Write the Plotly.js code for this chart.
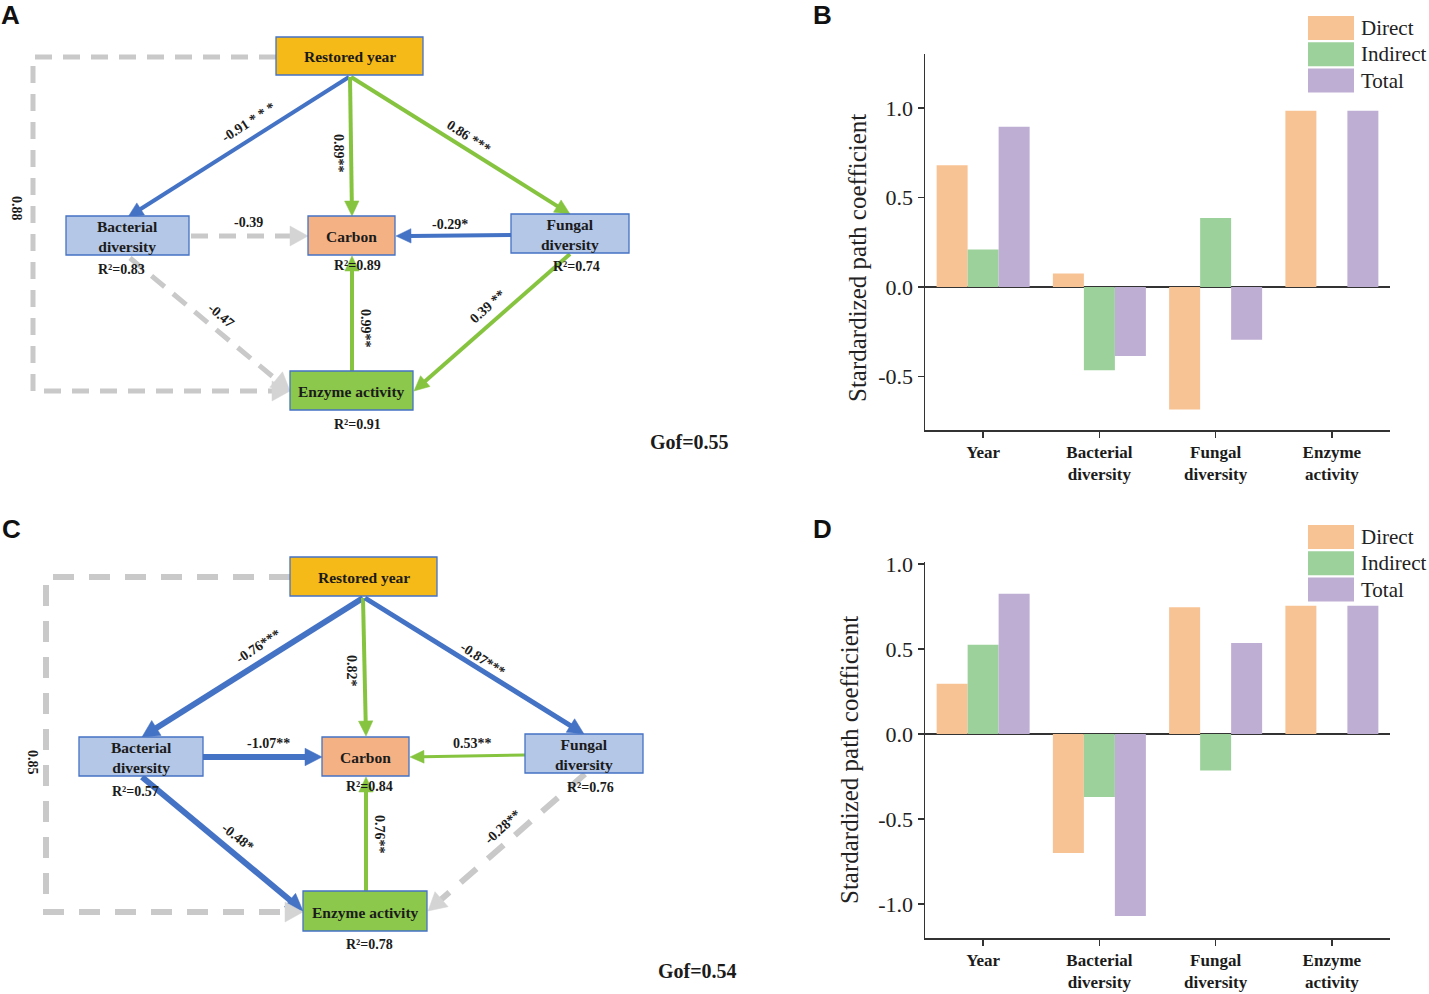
<!DOCTYPE html>
<html><head><meta charset="utf-8">
<script src="https://cdn.plot.ly/plotly-3.0.1.min.js"></script>
<style>html,body{margin:0;padding:0;background:#fff}</style>
</head><body><div id="fig" style="width:1429px;height:994px"></div>
<script>
// ---------------- DATA ----------------
const categories = ['Year', 'Bacterial<br>diversity', 'Fungal<br>diversity', 'Enzyme<br>activity'];
const seriesNames = ['Direct', 'Indirect', 'Total'];
const directB   = [0.68, 0.075, -0.685, 0.985];
const indirectB = [0.21, -0.465, 0.385, 0];
const totalB    = [0.895, -0.385, -0.295, 0.985];
const directD   = [0.295, -0.70, 0.745, 0.755];
const indirectD = [0.525, -0.37, -0.215, 0];
const totalD    = [0.825, -1.07, 0.535, 0.755];
const yTickVals = [-1.0, -0.5, 0.0, 0.5, 1.0];
const yTickText = ['-1.0', '-0.5', '0.0', '0.5', '1.0'];
const yTitle = 'Stardardized path coefficient';

// path model (structural equation) data
const nodeNames = ['Restored year', 'Bacterial<br>diversity', 'Carbon', 'Fungal<br>diversity', 'Enzyme activity'];
const r2A = [null, '0.83', '0.89', '0.74', '0.91'];
const r2C = [null, '0.57', '0.84', '0.76', '0.78'];
// edges: year->bact, year->carbon, year->fungal, bact->carbon, fungal->carbon, enzyme->carbon, fungal->enzyme, bact->enzyme, year->enzyme
const pathLabelsA = ['-0.91 * * *', '0.89**', '0.86 ***', '-0.39', '-0.29*', '0.99**', '0.39 **', '-0.47', '0.88'];
const pathTypesA  = ['neg', 'pos', 'pos', 'ns', 'neg', 'pos', 'pos', 'ns', 'ns'];
const pathLabelsC = ['-0.76***', '0.82*', '-0.87***', '-1.07**', '0.53**', '0.76**', '-0.28**', '-0.48*', '0.85'];
const pathTypesC  = ['neg', 'pos', 'neg', 'neg', 'pos', 'pos', 'ns', 'neg', 'ns'];
const gofA = '0.55';
const gofC = '0.54';

// ---------------- STYLE / LAYOUT CONFIG ----------------
const W = 1429, H = 994;
const X = px => px / W, Y = py => 1 - py / H;
const barColors = ['#F8C394', '#9CD19C', '#BFAED4'];
const serif = 'Liberation Serif, Times New Roman, serif';
const sans = 'Liberation Sans, Arial, sans-serif';
const txt = '#1b1b1b';
const nodeFill = ['#F5B918', '#B4C7E7', '#F4B183', '#B4C7E7', '#8CC84B'];
const edgeColor = {neg: '#4472C4', pos: '#86C440', ns: '#C9C9C9'};
const headColor = {neg: '#4472C4', pos: '#86C440', ns: '#D4D4D4'};

const diagA = {
  boxes: [[276,37,423,75],[66,216,189,255],[308,216,395,255],[511,214,629,253],[290,371,413,410]],
  r2pos: [null,[121,269],[357,265],[576,267],[357,424]],
  edges: [
    {pts:[[349,77],[128,217]], w:4},
    {pts:[[350,77],[352,216]], w:4},
    {pts:[[351,77],[570,214]], w:4},
    {pts:[[191,236],[308,236]], w:5, dash:'17px,11px'},
    {pts:[[511,235],[396,236]], w:4},
    {pts:[[352,371],[352,256]], w:4},
    {pts:[[570,254],[414,391]], w:4},
    {pts:[[130,258],[290,391]], w:5, dash:'17px,11px'},
    {pts:[[276,57],[33,57],[33,391],[290,391]], w:5, dash:'17px,11px'}
  ],
  labels: [[248,122,-33],[338,153,90],[468,137,33],[248,223,0],[450,224,0],[365,328,90],[488,307,-42],[221,315,40],[17,208,90]],
  gof: [689,442],
  ytitle: [857,258]
};
const diagC = {
  boxes: [[290,557,437,596],[79,737,203,776],[322,737,409,776],[525,734,643,773],[303,891,427,931]],
  r2pos: [null,[135,791],[370,786],[590,787],[370,944]],
  edges: [
    {pts:[[363,598],[142,737]], w:6},
    {pts:[[363,598],[366,736]], w:4},
    {pts:[[365,598],[584,734]], w:5},
    {pts:[[203,757],[322,757]], w:6},
    {pts:[[525,755],[410,757]], w:3},
    {pts:[[366,891],[366,777]], w:4},
    {pts:[[585,774],[428,911]], w:6, dash:'21px,15px'},
    {pts:[[142,777],[303,911]], w:6},
    {pts:[[290,577],[46,577],[46,912],[303,912]], w:6, dash:'21px,15px'}
  ],
  labels: [[258,646,-33],[352,671,90],[483,659,33],[268,743,0],[472,743,0],[380,834,90],[502,827,-42],[238,837,38],[33,762,90]],
  gof: [697,971],
  ytitle: [849,760]
};

const shapes = [], annotations = [];
function addText(x, y, t, size, opts) {
  opts = opts || {};
  annotations.push({xref:'paper', yref:'paper', x:X(x), y:Y(y), text:t, showarrow:false,
    xanchor:opts.xanchor||'center', yanchor:'middle', textangle:opts.angle||0,
    font:{family:opts.family||serif, size:size, color:opts.color||txt, weight:opts.weight||'bold'}});
}
function addArrow(pts, type, w, dash) {
  const n = pts.length;
  const [tx, ty] = pts[n-1], [px, py] = pts[n-2];
  const d = Math.hypot(tx-px, ty-py), ux = (tx-px)/d, uy = (ty-py)/d;
  const hl = type === 'ns' ? 18 : 11 + w;
  const hw = type === 'ns' ? 10 : 4 + w * 0.8;
  const bx = tx - ux*hl, by = ty - uy*hl;
  const lp = pts.slice(0, n-1).concat([[bx + ux*1, by + uy*1]]);
  const path = 'M' + lp.map(p => X(p[0]) + ',' + Y(p[1])).join(' L');
  shapes.push({type:'path', xref:'paper', yref:'paper', path:path, fillcolor:'rgba(0,0,0,0)',
    line:{color:edgeColor[type], width:w, dash:dash||'solid'}, layer:'above'});
  const nx = -uy, ny = ux;
  const tri = `M${X(tx)},${Y(ty)} L${X(bx+nx*hw)},${Y(by+ny*hw)} L${X(bx-nx*hw)},${Y(by-ny*hw)} Z`;
  shapes.push({type:'path', xref:'paper', yref:'paper', path:tri, fillcolor:headColor[type],
    line:{color:headColor[type], width:0.5}, layer:'above'});
}
function drawDiagram(cfg, labels, types, r2, gof) {
  cfg.edges.forEach((e, i) => addArrow(e.pts, types[i], e.w, e.dash));
  cfg.boxes.forEach((b, i) => {
    shapes.push({type:'rect', xref:'paper', yref:'paper', x0:X(b[0]), x1:X(b[2]), y0:Y(b[3]), y1:Y(b[1]),
      fillcolor:nodeFill[i], line:{color:'#4472C4', width:1.3}, layer:'above'});
    addText((b[0]+b[2])/2, (b[1]+b[3])/2 + 1, nodeNames[i], 15.5);
    if (r2[i] !== null) addText(cfg.r2pos[i][0], cfg.r2pos[i][1], 'R²=' + r2[i], 14);
  });
  cfg.labels.forEach((l, i) => addText(l[0], l[1], labels[i], 14, {angle:l[2]}));
  addText(cfg.gof[0], cfg.gof[1], 'Gof=' + gof, 20);
  addText(cfg.ytitle[0], cfg.ytitle[1], yTitle, 25, {angle:-90, weight:'normal', color:'#222'});
}
drawDiagram(diagA, pathLabelsA, pathTypesA, r2A, gofA);
drawDiagram(diagC, pathLabelsC, pathTypesC, r2C, gofC);

// panel letters
[['A',10,15],['B',822,15],['C',11,529],['D',822,529]].forEach(p =>
  addText(p[1], p[2], p[0], 26, {family:sans, color:'#111'}));

// custom legends
function legend(top) {
  seriesNames.forEach((nm, i) => {
    const y0 = top + i*26.3;
    shapes.push({type:'rect', xref:'paper', yref:'paper', x0:X(1308), x1:X(1354), y0:Y(y0+24), y1:Y(y0),
      fillcolor:barColors[i], line:{width:0}});
    addText(1359, y0 + 12, nm, 21, {xanchor:'left', weight:'normal', color:'#222'});
  });
}
legend(16);
legend(525);

// ---------------- TRACES ----------------
const seriesB = [directB, indirectB, totalB];
const seriesD = [directD, indirectD, totalD];
const traces = [];
seriesB.forEach((v, i) => traces.push({type:'bar', x:categories, y:v, name:seriesNames[i], xaxis:'x', yaxis:'y',
  marker:{color:barColors[i], line:{width:0}}, showlegend:false, hoverinfo:'skip'}));
seriesD.forEach((v, i) => traces.push({type:'bar', x:categories, y:v, name:seriesNames[i], xaxis:'x2', yaxis:'y2',
  marker:{color:barColors[i], line:{width:0}}, showlegend:false, hoverinfo:'skip'}));

function xAxis(anchor) {
  return {domain:[925/W, 1390/W], anchor:anchor, type:'category', range:[-0.5, 3.5],
    showline:true, linecolor:'#333', linewidth:1.5, ticks:'outside', ticklen:6, tickwidth:1.5, tickcolor:'#333',
    showgrid:false, zeroline:false, fixedrange:true,
    tickfont:{family:serif, size:17, color:txt, weight:'bold'}};
}
function yAxis(anchor, dom, range) {
  return {domain:dom, anchor:anchor, range:range, showline:true, linecolor:'#333', linewidth:1.5,
    ticks:'outside', ticklen:6, tickwidth:1.5, tickcolor:'#333', tickvals:yTickVals, ticktext:yTickText,
    tickfont:{family:serif, size:22, color:'#222'}, showgrid:false, fixedrange:true,
    zeroline:true, zerolinecolor:'#333', zerolinewidth:1.5};
}

const layout = {
  width:W, height:H, margin:{l:0, r:0, t:0, b:0}, paper_bgcolor:'#fff', plot_bgcolor:'rgba(0,0,0,0)',
  barmode:'group', bargap:0.2, bargroupgap:0, showlegend:false,
  xaxis:xAxis('y'), yaxis:yAxis('x', [1-430.2/H, 1-54.3/H], [-0.8, 1.3]),
  xaxis2:xAxis('y2'), yaxis2:yAxis('x2', [1-938/H, 1-562.3/H], [-1.2, 1.01]),
  shapes:shapes, annotations:annotations
};
Plotly.newPlot('fig', traces, layout, {displayModeBar:false, staticPlot:true});
</script></body></html>
